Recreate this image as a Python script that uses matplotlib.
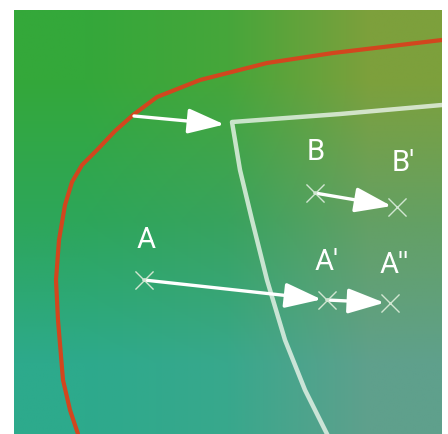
"""
Gamut mapping sketch: spectral locus, gamut edge and shifted colour points
"""
import numpy as np
import matplotlib.pyplot as plt

"""
Data (image pixel coords, y down)
"""
locus_x = [78, 70, 63, 58, 56, 59, 65, 72, 82, 97, 115, 133, 157, 200, 267, 333, 400, 442]
locus_y = [434, 410, 380, 320, 280, 240, 205, 182, 165, 150, 131, 115, 97, 80, 63, 53, 45, 40]

gamut_x = [442, 340, 232, 240, 252, 267, 285, 305, 327]
gamut_y = [105, 114, 122, 170, 220, 280, 340, 390, 434]

points = {"A": (144, 280), "A'": (327, 300), "A''": (390, 303),
          "B": (315, 193), "B'": (397, 207)}
label_pos = {"A": (146, 240), "A'": (327, 262), "A''": (394, 265),
             "B": (316, 152), "B'": (403, 163)}
moves = [("A", "A'"), ("A'", "A''"), ("B", "B'")]

edge_arrow = ((134, 116), (230, 125))

bg_colors = [[(52, 168, 58), (70, 166, 58), (125, 160, 60)],
             [(45, 166, 90), (56, 163, 94), (100, 160, 100)],
             [(45, 170, 140), (56, 168, 140), (95, 160, 140)]]

"""
Figure
"""
fig = plt.figure(figsize=(4.48, 4.34), dpi=100)
ax = fig.add_axes([14 / 448, 0, 428 / 448, 424 / 434])
ax.set_xlim(14, 442)
ax.set_ylim(434, 10)
ax.axis('off')

bg = np.array(bg_colors, dtype=float) / 255
ax.imshow(bg, extent=(14, 442, 434, 10), interpolation='bilinear', aspect='auto', zorder=0)

ax.plot(locus_x, locus_y, color='#d2461e', lw=3, solid_capstyle='round', zorder=2)
ax.plot(gamut_x, gamut_y, color=(0.92, 0.96, 0.92), alpha=0.8, lw=3.2,
        solid_joinstyle='round', zorder=2)

arrow_style = dict(arrowstyle='-|>,head_length=1.6,head_width=0.55', color='white',
                   lw=2.4, shrinkA=0, shrinkB=4, mutation_scale=14)
ax.annotate('', xy=edge_arrow[1], xytext=edge_arrow[0], arrowprops=arrow_style, zorder=3)
for a, b in moves:
    ax.annotate('', xy=points[b], xytext=points[a], arrowprops=arrow_style, zorder=3)

px = [p[0] for p in points.values()]
py = [p[1] for p in points.values()]
ax.scatter(px, py, marker='x', s=170, color=(0.82, 0.9, 0.82), linewidths=1.0, zorder=4)

for name, (lx, ly) in label_pos.items():
    ax.text(lx, ly, name, color='white', fontsize=21, fontfamily='Roboto',
            fontweight='normal', ha='center', va='center', zorder=5)

fig.savefig('out.png', dpi=100)
